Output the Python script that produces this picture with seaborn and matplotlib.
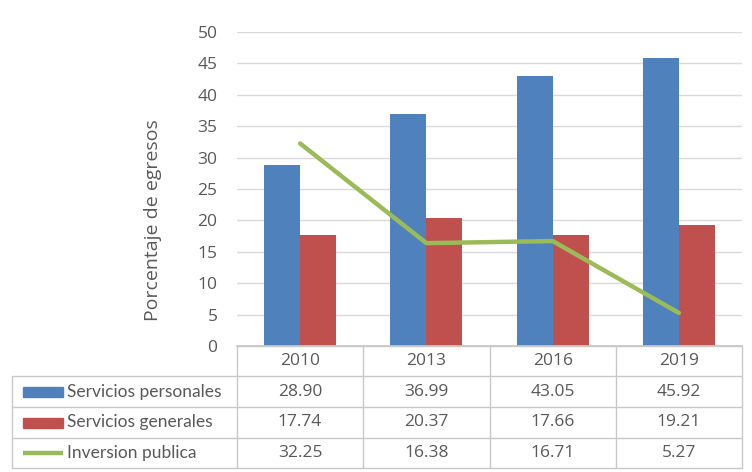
import numpy as np
import pandas as pd
import seaborn as sns
import matplotlib.pyplot as plt
from matplotlib.patches import Rectangle

# ================================================= [ data ] =======================================================
years = ["2010", "2013", "2016", "2019"]
servicios_personales = [28.90, 36.99, 43.05, 45.92]
servicios_generales = [17.74, 20.37, 17.66, 19.21]
inversion_publica = [32.25, 16.38, 16.71, 5.27]
series_names = ["Servicios personales", "Servicios generales", "Inversion publica"]

blue, red, green = "#4F81BD", "#C0504D", "#9BBB59"
grid_c = "#D9D9D9"
text_c = "#595959"

sns.set_theme(style="white")
plt.rcParams["font.family"] = ["Open Sans", "DejaVu Sans"]

bars = pd.DataFrame({
    "year": years * 2,
    "value": servicios_personales + servicios_generales,
    "serie": [series_names[0]] * 4 + [series_names[1]] * 4,
})

W, H = 752, 472
fig = plt.figure(figsize=(W / 100, H / 100), dpi=100)

x0, x1, y0, y1 = 237, 742, 346, 32
ax = fig.add_axes([x0 / W, 1 - y0 / H, (x1 - x0) / W, (y0 - y1) / H])

sns.barplot(data=bars, x="year", y="value", hue="serie", palette=[blue, red],
            width=0.57, gap=0, saturation=1, legend=False, ax=ax, zorder=2,
            linewidth=0, edgecolor="none")
sns.lineplot(x=np.arange(len(years)), y=inversion_publica, color=green, linewidth=3.2,
             ax=ax, zorder=3)

ax.set_xlim(-0.5, len(years) - 0.5)
ax.set_ylim(0, 50)
ax.set_yticks(np.arange(0, 51, 5))
ax.yaxis.grid(True, color=grid_c, linewidth=1)
ax.set_axisbelow(True)
ax.set_xticks([])
ax.set_xlabel("")
ax.set_ylabel("Porcentaje de egresos", fontsize=14, color=text_c)
# excel centres the axis title a bit lower than the plot area
ax.yaxis.set_label_coords(-0.148, 0.40)
ax.tick_params(axis="y", length=0, pad=14, labelsize=12.5, labelcolor=text_c)
for s in ["left", "right", "top"]:
    ax.spines[s].set_visible(False)
ax.spines["bottom"].set_color("#C8C8C8")

# ================================================= [ data table ] =================================================
tab = fig.add_axes([0, 0, 1, 1], facecolor="none")
tab.set_xlim(0, W)
tab.set_ylim(H, 0)
tab.axis("off")

col_edges = [237, 363, 490, 616, 742]
row_edges = [346, 376, 407, 438, 468]
left = 12
line_c = "#C8C8C8"

# horizontal lines
tab.plot([col_edges[0], col_edges[-1]], [row_edges[0]] * 2, color=line_c, lw=1)
for ry in row_edges[1:]:
    tab.plot([left, col_edges[-1]], [ry, ry], color=line_c, lw=1)
# vertical lines
tab.plot([left, left], [row_edges[1], row_edges[-1]], color=line_c, lw=1)
for cx in col_edges:
    tab.plot([cx, cx], [row_edges[0], row_edges[-1]], color=line_c, lw=1)

centers_x = [(a + b) / 2 for a, b in zip(col_edges[:-1], col_edges[1:])]
centers_y = [(a + b) / 2 for a, b in zip(row_edges[:-1], row_edges[1:])]

for cx, yr in zip(centers_x, years):
    tab.text(cx, centers_y[0], yr, ha="center", va="center", fontsize=12.5, color=text_c)

rows = [servicios_personales, servicios_generales, inversion_publica]
colors = [blue, red, green]
for i, (name, vals, c) in enumerate(zip(series_names, rows, colors)):
    cy = centers_y[i + 1]
    if i < 2:
        tab.add_patch(Rectangle((23, cy - 5), 40, 10, color=c))
    else:
        tab.plot([23, 63], [cy, cy], color=c, lw=3.2, solid_capstyle="butt")
    tab.text(67, cy, name, ha="left", va="center", fontsize=12.5, color=text_c,
             family=["Lato", "DejaVu Sans"])
    for cx, v in zip(centers_x, vals):
        tab.text(cx, cy, f"{v:.2f}", ha="center", va="center", fontsize=12.5, color=text_c)

fig.savefig("out.png", dpi=100)
